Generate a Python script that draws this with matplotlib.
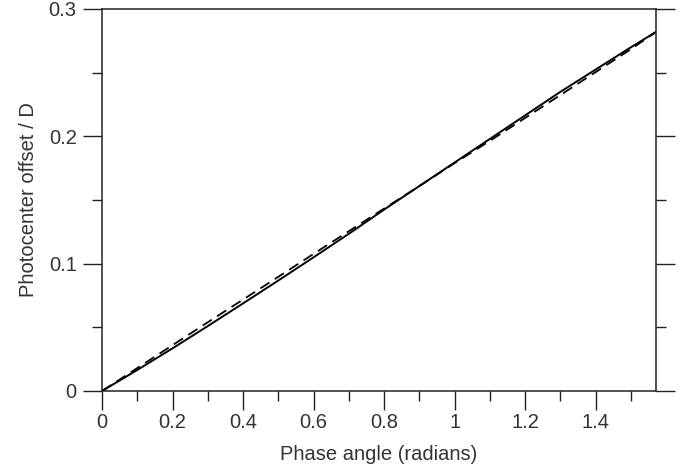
import numpy as np
import matplotlib
matplotlib.use("Agg")
import matplotlib.pyplot as plt
from matplotlib.ticker import MultipleLocator, FuncFormatter

# Data
phase = [0, 0.1, 0.2, 0.3, 0.4, 0.5, 0.6, 0.7, 0.8, 0.9, 1.0, 1.1, 1.2, 1.3, 1.4, 1.5, 1.5708]
solid = [0, 0.0165, 0.0335, 0.0510, 0.0688, 0.0868, 0.1050, 0.1235, 0.1425, 0.1610,
         0.1795, 0.1980, 0.2165, 0.2350, 0.2525, 0.2700, 0.2820]
dashed = [0, 0.0180, 0.0360, 0.0540, 0.0718, 0.0897, 0.1077, 0.1255, 0.1433, 0.1610,
          0.1790, 0.1965, 0.2145, 0.2325, 0.2505, 0.2685, 0.2820]

xlabel = "Phase angle (radians)"
ylabel = "Photocenter offset / D"

plt.rcParams['font.family'] = ['Liberation Sans', 'DejaVu Sans']

fig = plt.figure(figsize=(6.92, 4.70), dpi=100)
ax = fig.add_axes([102/692, 1 - 391/470, (656-102)/692, (391-9)/470])

ax.plot(phase, solid, color='black', lw=1.4, solid_capstyle='butt')
ax.plot(phase, dashed, color='black', lw=1.3, dashes=(6, 3.5))

ax.set_xlim(0, np.pi/2)
ax.set_ylim(0, 0.3)

ax.xaxis.set_major_locator(MultipleLocator(0.2))
ax.xaxis.set_minor_locator(MultipleLocator(0.1))
ax.yaxis.set_major_locator(MultipleLocator(0.1))
ax.yaxis.set_minor_locator(MultipleLocator(0.05))
fmt = FuncFormatter(lambda v, p: f"{v:g}")
ax.xaxis.set_major_formatter(fmt)
ax.yaxis.set_major_formatter(fmt)

txtcol = '#333333'
ax.tick_params(axis='both', which='both', direction='out', color='#222222', width=1.0,
               labelsize=14.5, labelcolor=txtcol)
ax.tick_params(axis='x', which='major', length=13.7, pad=2.5, top=False, bottom=True)
ax.tick_params(axis='x', which='minor', length=7.2, top=False, bottom=True)
ax.tick_params(axis='y', which='major', length=13.7, pad=4.5, left=True, right=True)
ax.tick_params(axis='y', which='minor', length=7.2, left=True, right=True)

for s in ax.spines.values():
    s.set_linewidth(1.1)
    s.set_color('#222222')

ax.set_xlabel(xlabel, fontsize=14.5, color=txtcol, labelpad=9)
ax.set_ylabel(ylabel, fontsize=14.5, color=txtcol, labelpad=8)

fig.savefig("out.png", dpi=100)
